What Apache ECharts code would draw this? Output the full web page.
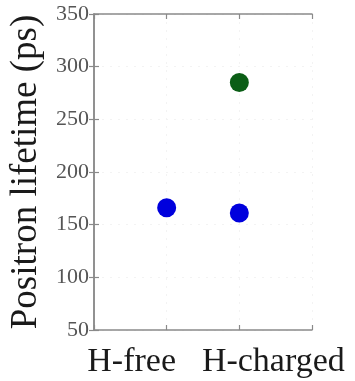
<!DOCTYPE html>
<html>
<head>
<meta charset="utf-8">
<script src="https://cdn.jsdelivr.net/npm/echarts@6/dist/echarts.min.js"></script>
<style>
  html, body { margin: 0; padding: 0; background: #fff; }
  #chart { width: 355px; height: 381px; }
</style>
</head>
<body>
<div id="chart"></div>
<script>
// Samples shown along the x axis
const categories = ['H-free', 'H-charged'];
// Short positron lifetime component (ps), one per sample
const shortLifetime = [166, 161];
// Long lifetime component (ps), only seen after hydrogen charging
const longLifetime = [null, 285];
const yTicks = [50, 100, 150, 200, 250, 300, 350];

const serif = '"Liberation Serif", "Times New Roman", serif';
const axisGray = '#8a8a8a';

// Category i sits at x = i + 1 on a 0..3 scale
function toPoints(values) {
  const pts = [];
  values.forEach(function (v, i) {
    if (v !== null) pts.push([i + 1, v]);
  });
  return pts;
}

const chart = echarts.init(document.getElementById('chart'), null, { renderer: 'canvas' });

const baseX = {
  type: 'value', min: 0, max: categories.length + 1, interval: 1,
  axisLine: { show: true, lineStyle: { color: axisGray, width: 1.5 } },
  axisTick: {
    show: true, inside: true, length: 5,
    lineStyle: { color: axisGray, width: 1.2 }
  },
  splitLine: { show: false }
};
const baseY = {
  type: 'value', min: yTicks[0], max: yTicks[yTicks.length - 1], interval: 50,
  axisLine: { show: true, lineStyle: { color: axisGray, width: 1.5 } },
  axisTick: {
    show: true, inside: true, length: 5,
    lineStyle: { color: axisGray, width: 1.2 }
  }
};

chart.setOption({
  animation: false,
  backgroundColor: '#ffffff',
  grid: { left: 94, right: 43, top: 14, bottom: 51 },
  xAxis: [
    Object.assign({}, baseX, {
      position: 'bottom',
      splitLine: {
        show: true,
        lineStyle: { color: '#f3f3f3', type: [2, 6], width: 1 }
      },
      axisLabel: {
        show: true, margin: 15,
        fontFamily: serif, fontSize: 34, color: '#1a1a1a',
        formatter: function (v) {
          const name = categories[v - 1];
          if (!name) return '';
          return v === 1 ? '{l|' + name + '}' : '{r|' + name + '}';
        },
        rich: {
          l: { fontFamily: serif, fontSize: 34, color: '#1a1a1a', padding: [0, 70, 0, 0] },
          r: { fontFamily: serif, fontSize: 34, color: '#1a1a1a', padding: [0, 0, 0, 68] }
        }
      }
    }),
    Object.assign({}, baseX, { position: 'top', axisLabel: { show: false } })
  ],
  yAxis: [
    Object.assign({}, baseY, {
      position: 'left',
      name: 'Positron lifetime (ps)',
      nameLocation: 'middle',
      nameGap: 49,
      nameTextStyle: { fontFamily: serif, fontSize: 37, color: '#1a1a1a' },
      splitLine: {
        show: true,
        lineStyle: { color: '#f3f3f3', type: [2, 6], width: 1 }
      },
      axisLabel: {
        show: true, margin: 5,
        fontFamily: serif, fontSize: 22, color: '#555555'
      }
    }),
    Object.assign({}, baseY, {
      position: 'right',
      axisLabel: { show: false },
      splitLine: { show: false }
    })
  ],
  series: [
    {
      type: 'scatter', xAxisIndex: 0, yAxisIndex: 0,
      symbol: 'circle', symbolSize: 19,
      itemStyle: { color: '#0000dd', opacity: 1 },
      data: toPoints(shortLifetime)
    },
    {
      type: 'scatter', xAxisIndex: 0, yAxisIndex: 0,
      symbol: 'circle', symbolSize: 19,
      itemStyle: { color: '#0b5e16', opacity: 1 },
      data: toPoints(longLifetime)
    }
  ]
});
</script>
</body>
</html>
